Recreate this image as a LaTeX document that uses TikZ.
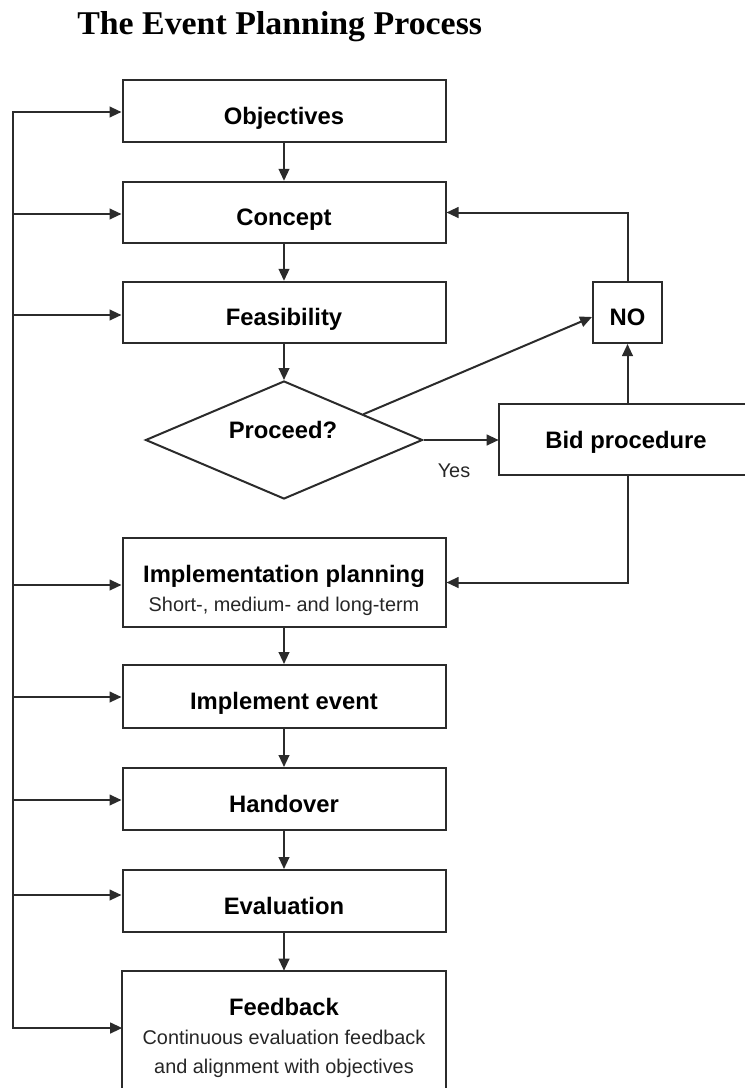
\documentclass[tikz,border=0pt]{standalone}
\usepackage{fontspec}
\usepackage{graphicx}
\setmainfont{Liberation Sans}
\newfontfamily\titlefont{Liberation Serif}
\usetikzlibrary{arrows.meta,shapes.geometric,calc}
\definecolor{lc}{HTML}{2B2B2B}
\newcommand{\bxfont}{\bfseries\fontsize{17.85pt}{21pt}\selectfont}
\newcommand{\subfont}{\fontsize{14.9pt}{18pt}\selectfont}
\tikzset{
  line/.style={draw=lc, line width=1.5pt},
  arr/.style={line, -{Triangle[length=9pt,width=8pt]}},
  stepbox/.style={line, minimum width=242.25pt, minimum height=46pt, inner sep=0pt,
     font=\bxfont, text height=19.5pt, text depth=0pt},
  plainbox/.style={inner sep=0pt},
  lbl/.style={inner sep=0pt, anchor=base}
}
\begin{document}
\begin{tikzpicture}[x=0.75pt,y=-0.75pt]
\useasboundingbox (0,0) rectangle (745,1088);
% title
\node[anchor=base west, inner sep=0pt] (title) at (77,35)
  {\titlefont\bfseries\fontsize{24.9pt}{28pt}\selectfont\scalebox{1.02}[1]{The Event Planning Process}};
% main column
\node[stepbox, minimum height=46.5pt] (obj) at (284,111) {Objectives};
\node[stepbox] (con) at (284,212.5) {Concept};
\node[stepbox] (fea) at (284,312.5) {Feasibility};
\node[line, diamond, inner sep=0pt, aspect=2.35, minimum width=207.75pt, minimum height=88.5pt] (dia) at (284,440) {};
\node[inner sep=0pt, font=\bxfont, text height=12.75pt, text depth=0pt] (proc) at (283,430) {Proceed?};
\node[stepbox, minimum height=66.75pt] (impl) at (284,582.5) {};
\node[lbl, font=\bxfont] (implT) at (284,582) {Implementation planning};
\node[lbl, font=\subfont, text=black!85] (implS) at (284,611) {Short-, medium- and long-term};
\node[stepbox, minimum height=47.25pt] (ie) at (284,696.5) {Implement event};
\node[stepbox, minimum height=46.5pt] (ho) at (284,799) {Handover};
\node[stepbox, minimum height=46.5pt] (ev) at (284,901) {Evaluation};
\node[plainbox, minimum width=242.25pt, minimum height=87.75pt] (fb) at (284,1029.5) {};
\draw[line] (fb.south west) -- (fb.north west) -- (fb.north east) -- (fb.south east);
\node[lbl, font=\bxfont] (fbT) at (284,1015) {Feedback};
\node[lbl, font=\subfont, text=black!85] (fbS1) at (284,1044) {Continuous evaluation feedback};
\node[lbl, font=\subfont, text=black!85] (fbS2) at (284,1073) {and alignment with objectives};
% right side
\node[stepbox, minimum width=51.75pt, minimum height=45.75pt] (no) at (627.5,312.5) {NO};
\node[plainbox, minimum width=184.5pt, minimum height=53.25pt] (bid) at (622,439.5) {};
\draw[line] (bid.north east) -- (bid.north west) -- (bid.south west) -- (bid.south east);
\node[inner sep=0pt, font=\bxfont, text height=12.75pt, text depth=0pt] (bidT) at (626,440) {Bid procedure};
\node[inner sep=0pt, font=\subfont, text=black!85, text height=10.7pt, text depth=0pt] (yes) at (454,470) {Yes};
% vertical flow
\draw[arr] (obj) -- (con);
\draw[arr] (con) -- (fea);
\draw[arr] (fea) -- (dia);
\draw[arr] (impl) -- (ie);
\draw[arr] (ie) -- (ho);
\draw[arr] (ho) -- (ev);
\draw[arr] (ev) -- (fb);
% decision branches
\coordinate (dstart) at ($(dia.north)!0.57!(dia.east)$);
\draw[arr] (dstart) -- ($(no.west)+(0,4.5)$);
\draw[arr] (dia.east) -- (dia.east -| bid.west);
\draw[arr] (no.south |- bid.north) -- (no.south);
\draw[arr] (no.north) |- (con.east);
\draw[arr] (no.south |- bid.south) |- (impl.east);
% feedback bus
\coordinate (b1) at (13,112);
\coordinate (b2) at (13,214);
\coordinate (b3) at (13,315);
\coordinate (b4) at (13,585);
\coordinate (b5) at (13,697);
\coordinate (b6) at (13,800);
\coordinate (b7) at (13,895);
\coordinate (b8) at (13,1028);
\draw[line, line cap=rect] (b1) -- (b8);
\draw[arr] (b1) -- (b1 -| obj.west);
\draw[arr] (b2) -- (b2 -| con.west);
\draw[arr] (b3) -- (b3 -| fea.west);
\draw[arr] (b4) -- (b4 -| impl.west);
\draw[arr] (b5) -- (b5 -| ie.west);
\draw[arr] (b6) -- (b6 -| ho.west);
\draw[arr] (b7) -- (b7 -| ev.west);
\draw[arr] (b8) -- (b8 -| fb.west);
\end{tikzpicture}
\end{document}
